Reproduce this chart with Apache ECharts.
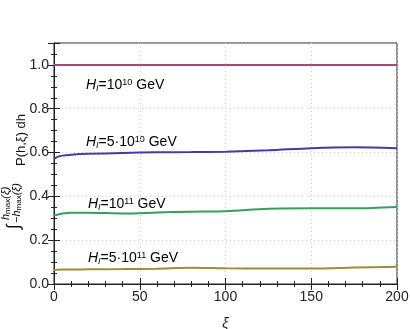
<!DOCTYPE html>
<html>
<head>
<meta charset="utf-8">
<script src="https://cdn.jsdelivr.net/npm/echarts@6/dist/echarts.min.js"></script>
<style>
  html, body { margin: 0; padding: 0; background: #fff; }
  #chart { width: 410px; height: 329px; }
</style>
</head>
<body>
<div id="chart"></div>
<script>
// xi values where the curves were read
var xi = [0, 2, 5, 10, 20, 40, 60, 80, 100, 125, 150, 175, 200];
// integral of P over [-hmax, hmax] for each H_I
var h1e10 = [1.0, 1.0, 1.0, 1.0, 1.0, 1.0, 1.0, 1.0, 1.0, 1.0, 1.0, 1.0, 1.0];
var h5e10 = [0.571, 0.580, 0.586, 0.590, 0.594, 0.598, 0.601, 0.602, 0.604, 0.610, 0.620, 0.624, 0.620];
var h1e11 = [0.312, 0.316, 0.322, 0.325, 0.325, 0.322, 0.326, 0.330, 0.332, 0.344, 0.346, 0.346, 0.352];
var h5e11 = [0.064, 0.065, 0.066, 0.066, 0.067, 0.068, 0.070, 0.074, 0.072, 0.071, 0.071, 0.075, 0.079];
var seriesNames = ['1e10', '5e10', '1e11', '5e11'];
var seriesColors = ['#a8457d', '#3b3fa6', '#36a05a', '#a08c32'];

function pairs(ys) {
  return xi.map(function (x, i) { return [x, ys[i]]; });
}

var chart = echarts.init(document.getElementById('chart'));

var font = 'Liberation Sans, Arial, sans-serif';
var rich = {
  i: { fontFamily: font, fontStyle: 'italic', fontSize: 14, color: '#111' },
  sub: { fontFamily: font, fontStyle: 'italic', fontSize: 9, color: '#111', verticalAlign: 'bottom', padding: [6, 0, 0, 0] },
  t: { fontFamily: font, fontSize: 14, color: '#111' },
  sup: { fontFamily: font, fontSize: 9, color: '#111', verticalAlign: 'top', padding: [0, 0, 6, 0] }
};
function hLabel(x, y, pre, exp) {
  return {
    type: 'text', left: x, top: y,
    style: {
      text: '{i|H}{sub|I}{t|=' + pre + '10}{sup|' + exp + '}{t| GeV}',
      rich: rich
    }
  };
}
var limRich = {
  hi: { fontFamily: font, fontStyle: 'italic', fontSize: 11, color: '#111' },
  ms: { fontFamily: font, fontSize: 8, color: '#111', verticalAlign: 'bottom', padding: [3, 0, 0, 0] },
  p: { fontFamily: font, fontStyle: 'italic', fontSize: 11, color: '#111' }
};

var majorTick = { show: true, inside: true, length: 6, lineStyle: { color: '#222', width: 1 } };
var minorTick = { show: true, splitNumber: 5, length: 3, lineStyle: { color: '#222', width: 1 } };

var option = {
  animation: false,
  backgroundColor: '#fff',
  grid: { left: 54, right: 13, top: 43, bottom: 45, outerBoundsMode: 'none', containLabel: false,
    show: true, borderColor: '#222', borderWidth: 1 },
  xAxis: [{
    type: 'value', min: 0, max: 200, interval: 50,
    axisLine: { show: true, lineStyle: { color: '#222' } },
    axisTick: majorTick,
    minorTick: minorTick,
    axisLabel: { color: '#222', fontSize: 14, fontFamily: font, margin: 6 },
    splitLine: { show: true, lineStyle: { color: '#ccc', type: [1, 3], width: 1 } },
    name: 'ξ', nameLocation: 'middle', nameGap: 33,
    nameTextStyle: { fontFamily: font, fontStyle: 'italic', fontSize: 14, color: '#222' }
  }, {
    type: 'value', position: 'top', min: 0, max: 200, interval: 50,
    axisLine: { show: true, lineStyle: { color: '#222' } },
    axisTick: majorTick, minorTick: minorTick,
    axisLabel: { show: false }, splitLine: { show: false }
  }],
  yAxis: [{
    type: 'value', min: 0, max: 1.1, interval: 0.2,
    axisLine: { show: true, lineStyle: { color: '#222' } },
    axisTick: majorTick,
    minorTick: { show: true, splitNumber: 4, length: 3, lineStyle: { color: '#222', width: 1 } },
    axisLabel: {
      color: '#222', fontSize: 14, fontFamily: font, margin: 5,
      formatter: function (v) { return Math.abs(v * 5 - Math.round(v * 5)) < 1e-6 ? v.toFixed(1) : ''; }
    },
    splitLine: { show: true, lineStyle: { color: '#ccc', type: [1, 3], width: 1 } }
  }, {
    type: 'value', position: 'right', min: 0, max: 1.1, interval: 0.2,
    axisLine: { show: true, lineStyle: { color: '#222' } },
    axisTick: majorTick,
    minorTick: { show: true, splitNumber: 4, length: 3, lineStyle: { color: '#222', width: 1 } },
    axisLabel: { show: false }, splitLine: { show: false }
  }],
  series: [h1e10, h5e10, h1e11, h5e11].map(function (ys, k) {
    return {
      name: seriesNames[k], type: 'line', smooth: 0.3, showSymbol: false,
      data: pairs(ys),
      lineStyle: { color: seriesColors[k], width: 2 },
      z: 3
    };
  }),
  graphic: [
    hLabel(86, 78, '', '10'),
    hLabel(86, 135, '5·', '10'),
    hLabel(88, 197, '', '11'),
    hLabel(88, 251, '5·', '11'),
    {
      // rotated y-axis title: integral with stacked limits
      type: 'group', x: 0, y: 229, rotation: Math.PI / 2,
      children: [
        { type: 'text', x: 0, y: 14,
          style: { text: '∫', fontFamily: font, fontSize: 18, fill: '#111', align: 'left', verticalAlign: 'middle' } },
        { type: 'text', x: 9, y: 6,
          style: { text: '{hi|h}{ms|max}{p|(ξ)}', align: 'left', verticalAlign: 'middle', rich: limRich } },
        { type: 'text', x: 6, y: 17,
          style: { text: '{p|−}{hi|h}{ms|max}{p|(ξ)}', align: 'left', verticalAlign: 'middle', rich: limRich } },
        { type: 'text', x: 63, y: 21,
          style: { text: 'P(h,ξ) dh', fontFamily: font, fontSize: 13, fill: '#111', align: 'left', verticalAlign: 'middle' } }
      ]
    }
  ]
};

chart.setOption(option);
</script>
</body>
</html>
